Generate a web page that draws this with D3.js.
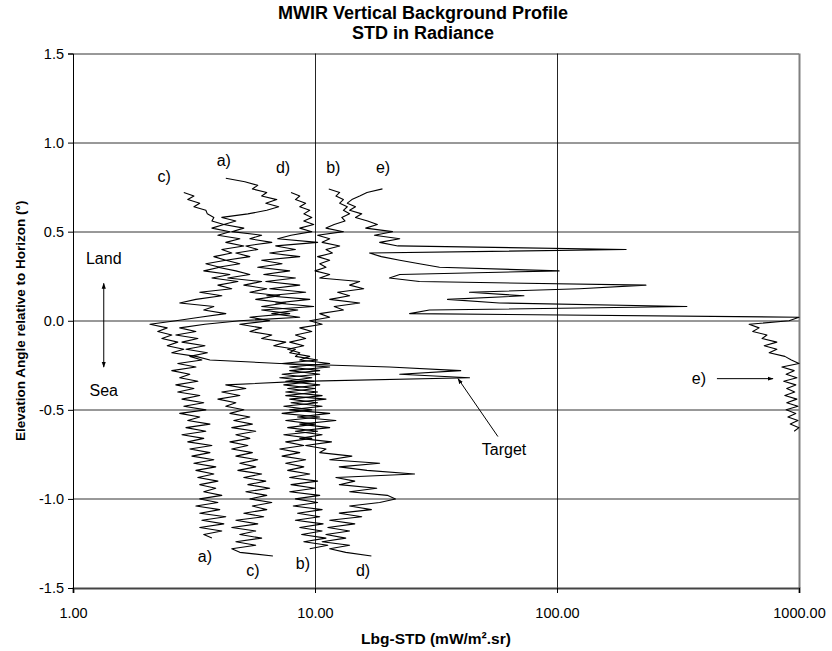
<!DOCTYPE html>
<html>
<head>
<meta charset="utf-8">
<script src="https://cdn.jsdelivr.net/npm/d3@7"></script>
<style>
body { margin: 0; background: #fff; }
text { font-family: Arial, "Liberation Sans", sans-serif; fill: #000; }
</style>
</head>
<body>
<div id="chart-area"></div>
<script>
/*
*    MWIR vertical background profile
*    STD in radiance against elevation angle, log x axis
*/

// Elevation sampling of every profile (deg), starting at the top of each curve
var elevStep = 0.02;
var aTop = 0.80, bTop = 0.74, cTop = 0.72, dTop = 0.72, eTop = 0.74;

// Lbg-STD values (mW/m².sr), read top to bottom
var aStd = [4.28, 5.13, 5.80, 5.51, 6.32, 6.02, 6.95, 6.26, 7.08, 6.32,
    5.28, 4.12, 4.71, 4.20, 5.08, 4.53, 6.02, 5.38, 6.63, 5.18,
    5.80, 4.71, 5.38, 4.28, 4.89, 3.97, 4.71, 5.38, 4.36, 6.02,
    5.08, 6.32, 5.38, 7.15, 5.69, 7.57, 6.02, 8.49, 6.63, 8.65,
    4.89, 3.51, 2.76, 3.22, 2.66, 3.28, 2.82, 3.51, 2.93, 3.59,
    3.04, 3.41, 2.71, 3.22, 2.56, 3.04, 2.76, 3.28, 2.66, 3.16,
    2.71, 3.34, 2.82, 3.47, 2.87, 3.54, 2.76, 3.34, 2.98, 3.68,
    2.93, 3.54, 2.82, 3.47, 2.98, 3.75, 3.04, 3.68, 3.10, 3.82,
    3.16, 3.89, 3.22, 3.82, 3.28, 3.97, 3.34, 3.89, 3.47, 4.12,
    3.34, 3.97, 3.22, 4.04, 3.34, 4.28, 3.41, 4.20, 3.34, 4.12,
    3.47, 3.75];

var bStd = [11.4, 12.65, 12.2, 13.1, 12.65, 13.6, 13.1, 13.9, 12.9, 13.3,
    12.0, 11.1, 13.1, 10.25, 11.5, 10.7, 12.65, 11.1, 11.8, 10.25,
    11.5, 10.46, 11.1, 10.0, 11.5, 10.46, 15.3, 13.9, 15.9, 12.4,
    13.9, 11.5, 15.3, 12.0, 13.1, 10.46, 11.5, 9.51, 10.7, 8.65,
    9.70, 8.30, 9.15, 7.86, 8.99, 7.71, 8.65, 8.30, 10.25, 7.31,
    11.5, 7.86, 10.46, 7.15, 9.88, 7.43, 10.0, 7.57, 10.7, 7.86,
    10.25, 7.43, 9.70, 7.31, 10.46, 7.57, 10.0, 7.71, 10.25, 7.43,
    9.70, 7.57, 8.99, 7.15, 8.65, 7.31, 9.15, 7.57, 8.99, 7.71,
    9.51, 7.86, 10.25, 7.96, 10.0, 7.86, 10.46, 8.30, 10.25, 8.13,
    10.7, 8.47, 10.46, 8.30, 10.8, 8.65, 10.7, 8.81, 11.1, 8.99,
    11.3, 9.51];

var cStd = [2.87, 3.16, 2.98, 3.34, 3.16, 3.54, 3.59, 3.82, 3.75, 4.20,
    3.75, 4.45, 3.97, 4.89, 4.28, 5.08, 4.12, 4.53, 3.82, 4.28,
    3.54, 4.04, 3.47, 4.45, 3.75, 4.80, 3.97, 4.53, 3.34, 4.12,
    3.22, 2.76, 3.82, 3.47, 4.28, 3.34, 2.66, 2.08, 2.45, 2.24,
    2.56, 2.33, 2.71, 2.45, 2.87, 2.56, 3.22, 3.68, 7.15, 20.3,
    40.0, 22.4, 43.5, 8.65, 4.28, 5.18, 4.12, 4.89, 3.97, 4.71,
    4.28, 5.08, 4.45, 5.38, 4.62, 5.51, 4.53, 5.69, 4.71, 5.38,
    4.45, 5.28, 4.53, 5.51, 4.71, 5.80, 4.89, 5.69, 4.80, 6.02,
    5.08, 6.26, 5.28, 6.50, 5.18, 6.32, 5.38, 6.63, 5.51, 6.32,
    5.08, 6.14, 4.71, 5.80, 4.53, 5.69, 4.89, 6.02, 4.71, 5.69,
    4.53, 4.89, 6.70];

var dStd = [7.96, 8.65, 8.30, 9.15, 8.65, 9.51, 8.99, 9.70, 8.99, 9.88,
    8.65, 9.70, 7.96, 7.01, 10.25, 6.88, 8.30, 6.50, 8.65, 6.02,
    7.31, 5.80, 7.86, 6.14, 8.30, 6.26, 8.65, 6.50, 9.15, 6.32,
    9.51, 6.88, 9.88, 6.02, 7.86, 5.38, 6.50, 4.89, 6.02, 5.38,
    6.63, 6.02, 7.57, 6.75, 8.30, 7.86, 9.51, 8.65, 11.5, 7.86,
    10.46, 7.31, 9.70, 7.57, 10.46, 7.71, 10.25, 7.57, 11.1, 7.96,
    10.7, 7.86, 11.5, 8.47, 12.2, 8.65, 11.5, 8.30, 10.7, 8.65,
    11.7, 9.15, 11.1, 10.46, 14.2, 11.5, 18.5, 12.6, 16.4, 25.8,
    12.2, 14.6, 12.6, 18.0, 13.9, 19.9, 21.5, 18.5, 13.9, 17.1,
    12.6, 15.6, 11.5, 14.6, 11.3, 13.9, 11.1, 13.4, 10.7, 13.9,
    11.5, 13.4, 17.1];

var eStd = [19.0, 16.4, 15.3, 14.2, 13.6, 14.7, 13.9, 15.6, 14.7, 16.5,
    18.1, 16.2, 20.9, 17.6, 22.4, 18.5, 22.0, 193, 16.8, 18.8,
    22.4, 27.0, 32.7, 102, 22.4, 20.3, 27.0, 233, 124, 43.5,
    73.0, 35.3, 57.8, 344, 29.7, 24.6, 1000, 910, 622, 684,
    644, 737, 704, 810, 718, 810, 753, 874, 930, 1000,
    850, 955, 885, 980, 865, 970, 890, 960, 874, 980,
    890, 990, 885, 970, 900, 990, 920, 1000, 955];

// Axis ticks
var yTicks = [-1.5, -1.0, -0.5, 0.0, 0.5, 1.0, 1.5];
var xTicks = [1, 10, 100, 1000];

var margin = { left: 73, right: 33, top: 53.5, bottom: 63 },
    width = 832 - margin.left - margin.right,
    height = 651 - margin.top - margin.bottom;

var svg = d3.select("#chart-area").append("svg")
    .attr("width", 832)
    .attr("height", 651);

svg.append("rect").attr("width", 832).attr("height", 651).attr("fill", "#fff");

var defs = svg.append("defs");
defs.append("marker")
    .attr("id", "head")
    .attr("viewBox", "0 0 10 10")
    .attr("refX", 9).attr("refY", 5)
    .attr("markerWidth", 6).attr("markerHeight", 6)
    .attr("markerUnits", "userSpaceOnUse")
    .attr("orient", "auto-start-reverse")
    .append("path")
    .attr("d", "M0,1.5L10,5L0,8.5z")
    .attr("fill", "#000");

var g = svg.append("g")
    .attr("transform", "translate(" + margin.left + "," + margin.top + ")");

// Scales
var x = d3.scaleLog().domain([1, 1000]).range([0, width]);
var y = d3.scaleLinear().domain([-1.5, 1.5]).range([height, 0]);

// Gridlines
g.append("g").selectAll("line")
    .data(yTicks.slice(1))
    .enter().append("line")
    .attr("x1", 0).attr("x2", width)
    .attr("y1", function(d) { return Math.round(y(d)) + 0.5; })
    .attr("y2", function(d) { return Math.round(y(d)) + 0.5; })
    .attr("stroke", "#000").attr("stroke-width", 1).attr("opacity", 0.8);

g.append("g").selectAll("line")
    .data([10, 100])
    .enter().append("line")
    .attr("y1", 0).attr("y2", height)
    .attr("x1", function(d) { return Math.round(x(d)) + 0.5; })
    .attr("x2", function(d) { return Math.round(x(d)) + 0.5; })
    .attr("stroke", "#000").attr("stroke-width", 1).attr("opacity", 0.85);

// Plot border (grey)
g.append("line")
    .attr("x1", width + 0.5).attr("x2", width + 0.5)
    .attr("y1", 0).attr("y2", height)
    .attr("stroke", "#808080").attr("stroke-width", 2);

// Axes - hyphen minus like the original, not the unicode minus
var fmt1 = d3.format(".1f");
var yAxisCall = d3.axisLeft(y)
    .tickValues(yTicks)
    .tickFormat(function(d) { return fmt1(d).replace("\u2212", "-"); })
    .tickSize(5)
    .tickPadding(4);
var xAxisCall = d3.axisBottom(x)
    .tickValues(xTicks)
    .tickFormat(d3.format(".2f"))
    .tickSize(5)
    .tickPadding(15);

var xAxis = g.append("g")
    .attr("transform", "translate(0," + height + ")")
    .call(xAxisCall);
var yAxis = g.append("g").call(yAxisCall);

[xAxis, yAxis].forEach(function(ax) {
    ax.select(".domain").attr("stroke", "#000");
    ax.selectAll(".tick line").attr("stroke", "#000");
    ax.selectAll(".tick text")
        .attr("font-family", "Arial, 'Liberation Sans', sans-serif")
        .attr("font-size", "14.5px");
});
xAxis.select(".domain").attr("stroke", "#444").attr("stroke-width", 2);

// Profiles
var line = d3.line()
    .x(function(d) { return x(d.std); })
    .y(function(d) { return y(d.elev); });

function profile(top, values) {
    return values.map(function(v, i) {
        return { elev: top - i * elevStep, std: v };
    });
}

var series = [
    profile(aTop, aStd),
    profile(bTop, bStd),
    profile(cTop, cStd),
    profile(dTop, dStd),
    profile(eTop, eStd)
];

g.append("g").selectAll("path")
    .data(series)
    .enter().append("path")
    .attr("d", line)
    .attr("fill", "none")
    .attr("stroke", "#000")
    .attr("stroke-width", 1.1)
    .attr("stroke-linejoin", "round");

// Annotations (placed in data coordinates)
var notes = [
    { t: "a)", std: 4.2, elev: 0.90 },
    { t: "c)", std: 2.38, elev: 0.81 },
    { t: "d)", std: 7.38, elev: 0.86 },
    { t: "b)", std: 11.9, elev: 0.86 },
    { t: "e)", std: 19.1, elev: 0.86 },
    { t: "a)", std: 3.51, elev: -1.32 },
    { t: "c)", std: 5.54, elev: -1.40 },
    { t: "b)", std: 8.92, elev: -1.36 },
    { t: "d)", std: 15.8, elev: -1.40 },
    { t: "Land", std: 1.34, elev: 0.35 },
    { t: "Sea", std: 1.34, elev: -0.39 },
    { t: "Target", std: 60.4, elev: -0.72 },
    { t: "e)", std: 386, elev: -0.325 }
];

g.append("g").selectAll("text")
    .data(notes)
    .enter().append("text")
    .attr("x", function(d) { return x(d.std); })
    .attr("y", function(d) { return y(d.elev); })
    .attr("dy", "0.36em")
    .attr("text-anchor", "middle")
    .attr("font-size", "16px")
    .text(function(d) { return d.t; });

var arrows = [
    { s0: 1.34, e0: 0.21, s1: 1.34, e1: -0.26, both: true },
    { s0: 57, e0: -0.65, s1: 39, e1: -0.325, both: false },
    { s0: 458, e0: -0.325, s1: 781, e1: -0.325, both: false }
];

g.append("g").selectAll("line")
    .data(arrows)
    .enter().append("line")
    .attr("x1", function(d) { return x(d.s0); })
    .attr("y1", function(d) { return y(d.e0); })
    .attr("x2", function(d) { return x(d.s1); })
    .attr("y2", function(d) { return y(d.e1); })
    .attr("stroke", "#000")
    .attr("stroke-width", 1)
    .attr("marker-end", "url(#head)")
    .attr("marker-start", function(d) { return d.both ? "url(#head)" : null; });

// Titles
var title = svg.append("text")
    .attr("x", 423)
    .attr("text-anchor", "middle")
    .attr("font-weight", "bold")
    .attr("font-size", "18px");
title.append("tspan").attr("x", 423).attr("y", 19).text("MWIR Vertical Background Profile");
title.append("tspan").attr("x", 423).attr("y", 39).text("STD in Radiance");

svg.append("text")
    .attr("x", 436)
    .attr("y", 638)
    .attr("dy", "0.36em")
    .attr("text-anchor", "middle")
    .attr("font-weight", "bold")
    .attr("font-size", "15.5px")
    .text("Lbg-STD (mW/m².sr)");

svg.append("text")
    .attr("transform", "translate(20," + (margin.top + y(0)) + ") rotate(-90)")
    .attr("text-anchor", "middle")
    .attr("dy", "0.36em")
    .attr("font-weight", "bold")
    .attr("font-size", "13.5px")
    .text("Elevation Angle relative to Horizon (°)");
</script>
</body>
</html>
